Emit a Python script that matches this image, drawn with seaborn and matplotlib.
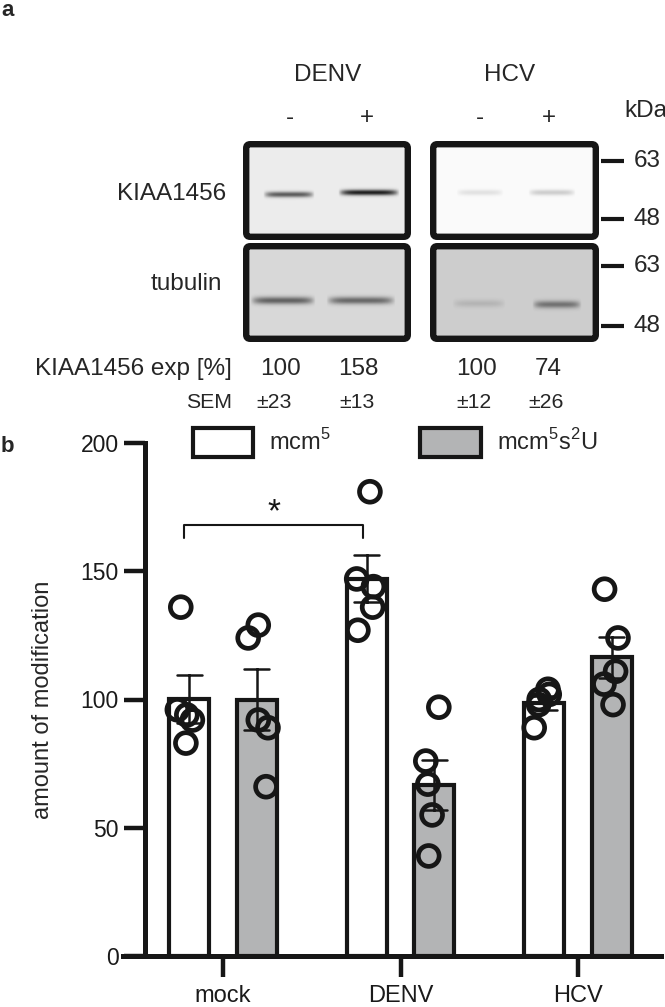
import numpy as np
import pandas as pd
import matplotlib
matplotlib.use("Agg")
import matplotlib.pyplot as plt
import seaborn as sns
from matplotlib.patches import FancyBboxPatch, Patch

# ---- panel b data ----
groups = ["mock", "DENV", "HCV"]
mods = ["mcm5", "mcm5s2U"]
mock_mcm5 = [136, 96, 94, 92, 83]
mock_mcm5s2u = [129, 124, 92, 89, 66]
denv_mcm5 = [181, 147, 144, 136, 127]
denv_mcm5s2u = [97, 76, 67, 55, 39]
hcv_mcm5 = [104, 102, 100, 98, 89]
hcv_mcm5s2u = [143, 124, 111, 106, 98]

# ---- panel a data ----
viruses = ["DENV", "HCV"]
treatment = ["-", "+", "-", "+"]
kiaa_exp = [100, 158, 100, 74]
kiaa_sem = [23, 13, 12, 26]
marker_kda = [63, 48]
# band darkness per lane (DENV -, DENV +, HCV -, HCV +)
kiaa_band = [0.62, 0.88, 0.10, 0.18]
tubulin_band = [0.55, 0.52, 0.12, 0.45]

rows = []
for g, a, b in zip(groups, [mock_mcm5, denv_mcm5, hcv_mcm5],
                   [mock_mcm5s2u, denv_mcm5s2u, hcv_mcm5s2u]):
    rows += [(g, mods[0], v) for v in a]
    rows += [(g, mods[1], v) for v in b]
df = pd.DataFrame(rows, columns=["group", "mod", "value"])

sns.set_style("ticks")
plt.rcParams["font.family"] = ["Liberation Sans", "DejaVu Sans"]
plt.rcParams["mathtext.fontset"] = "custom"
plt.rcParams["mathtext.rm"] = "Liberation Sans"

W, H = 665, 1007
fig = plt.figure(figsize=(W / 100, H / 100), dpi=100)
ink = "#161616"

# ================= panel a (drawn in pixel coords) =================
axa = fig.add_axes([0, 0, 1, 1])
axa.axis("off")

def band(cx, cy, w, h, strength):
    xs = np.linspace(-1, 1, 80)
    ys = np.linspace(-1, 1, 24)
    prof = np.exp(-(ys[:, None] / 0.45) ** 2) * np.clip(1 - np.abs(xs[None, :]) ** 5, 0, 1)
    rgba = np.zeros((24, 80, 4))
    rgba[..., 3] = strength * prof
    axa.imshow(rgba, extent=(cx - w / 2, cx + w / 2, cy + h / 2, cy - h / 2),
               interpolation="bilinear", zorder=3)

def frame(x0, x1, y0, y1, fill):
    lw = 6.4
    kw = dict(boxstyle="round,pad=0,rounding_size=4")
    axa.add_patch(FancyBboxPatch((x0 + lw / 2, y0 + lw / 2), x1 - x0 - lw, y1 - y0 - lw,
                                 facecolor=fill, edgecolor="none", zorder=2, **kw))
    axa.add_patch(FancyBboxPatch((x0 + lw / 2, y0 + lw / 2), x1 - x0 - lw, y1 - y0 - lw,
                                 facecolor="none", edgecolor=ink, linewidth=lw * 0.72,
                                 zorder=4, **kw))

frame(243, 411, 141, 240, "#ececec")
frame(430, 599, 141, 240, "#fafafa")
frame(243, 411, 243, 342, "#d8d8d8")
frame(430, 599, 243, 342, "#cdcdcd")

kiaa_x, kiaa_w, kiaa_y = [289, 369, 480, 552], [52, 62, 48, 48], [195, 193, 193, 193]
tub_x, tub_w, tub_y = [283, 361, 479, 557], [66, 70, 54, 50], [301, 301, 304, 305]
for i in range(4):
    band(kiaa_x[i], kiaa_y[i], kiaa_w[i], 13, kiaa_band[i])
    band(tub_x[i], tub_y[i], tub_w[i], 17, tubulin_band[i])

fs_a = 17.5
for v, x in zip(viruses, [328, 510]):
    axa.text(x, 75, v, ha="center", va="center", fontsize=fs_a)
for t, x in zip(treatment, [290, 367, 480, 549]):
    axa.text(x, 118, t, ha="center", va="center", fontsize=fs_a)
axa.text(624, 111, "kDa", ha="left", va="center", fontsize=fs_a)
for k, y in zip(marker_kda * 2, [161, 219, 266, 326]):
    axa.plot([601, 624], [y, y], color=ink, lw=3.0, solid_capstyle="butt")
    axa.text(634, y, str(k), ha="left", va="center", fontsize=fs_a)
axa.text(226, 194, "KIAA1456", ha="right", va="center", fontsize=fs_a)
axa.text(222, 284, "tubulin", ha="right", va="center", fontsize=fs_a)
axa.text(232, 369, "KIAA1456 exp [%]", ha="right", va="center", fontsize=fs_a)
axa.text(232, 403, "SEM", ha="right", va="center", fontsize=15.3)
for v, s, x1, x2 in zip(kiaa_exp, kiaa_sem, [280, 358, 477, 548], [274, 357, 474, 546]):
    axa.text(x1, 369, str(v), ha="center", va="center", fontsize=fs_a)
    axa.text(x2, 403, "\u00b1" + str(s), ha="center", va="center", fontsize=15.3)

axa.text(1, 11, "a", ha="left", va="center", fontsize=16, fontweight="bold")
axa.text(1, 447, "b", ha="left", va="center", fontsize=16, fontweight="bold")
axa.set_aspect("auto")
axa.set_xlim(0, W)
axa.set_ylim(H, 0)

# ================= panel b =================
x_left, x_right, y_bot, y_top = 123, 661, 956, 443
axb = fig.add_axes([x_left / W, (H - y_bot) / H, (x_right - x_left) / W, (y_bot - y_top) / H])
axb.patch.set_alpha(0)
palette = ["white", "#b3b4b5"]

sns.barplot(data=df, x="group", y="value", hue="mod", order=groups, hue_order=mods,
            palette=palette, saturation=1, width=0.76, gap=0.41,
            errorbar="se", capsize=0.28, edgecolor=ink, linewidth=3.0,
            err_kws={"color": ink, "linewidth": 1.8}, legend=False, ax=axb)

np.random.seed(11)
n0 = len(axb.collections)
sns.stripplot(data=df, x="group", y="value", hue="mod", order=groups, hue_order=mods,
              dodge=True, jitter=0.12, size=15, legend=False, ax=axb, zorder=5)
for c in axb.collections[n0:]:
    c.set_facecolor("none")
    c.set_edgecolor(ink)
    c.set_linewidth(3.4)

axb.set_xlim(-0.564, 2.468)
axb.set_ylim(0, 200)
axb.set_yticks([0, 50, 100, 150, 200])
axb.spines["left"].set_position(("data", -0.44))
axb.spines[["top", "right"]].set_visible(False)
for s in ["left", "bottom"]:
    axb.spines[s].set_linewidth(3.6)
    axb.spines[s].set_color(ink)
axb.tick_params(axis="both", width=3.2, length=15, color=ink, labelcolor="#1a1a1a")
axb.tick_params(axis="y", labelsize=16.5, pad=4)
axb.tick_params(axis="x", labelsize=17, pad=6)
axb.set_xlabel("")
axb.set_ylabel("amount of modification", fontsize=17)
axb.yaxis.set_label_coords(-0.128, 0.5)

# significance bracket mock vs DENV (mcm5)
br_x0, br_x1, br_y, br_leg = -0.22, 0.79, 168, 163
axb.plot([br_x0, br_x0, br_x1, br_x1], [br_leg, br_y, br_y, br_leg], color=ink, lw=1.5,
         clip_on=False)
axb.text((br_x0 + br_x1) / 2, 169.5, "*", ha="center", va="baseline", fontsize=24,
         color=ink)

handles = [Patch(facecolor=c, edgecolor=ink, linewidth=3.0) for c in palette]
axb.legend(handles, ["mcm$^{5}$", "mcm$^{5}$s$^{2}$U"], ncol=2, frameon=False,
           loc="upper left", bbox_to_anchor=(192.5 / W, 1 - 427.5 / H),
           bbox_transform=fig.transFigure, fontsize=17, handlelength=2.58,
           handleheight=1.57, handletextpad=0.65, columnspacing=3.8,
           borderpad=0, borderaxespad=0)

fig.savefig("out.png", dpi=100)
